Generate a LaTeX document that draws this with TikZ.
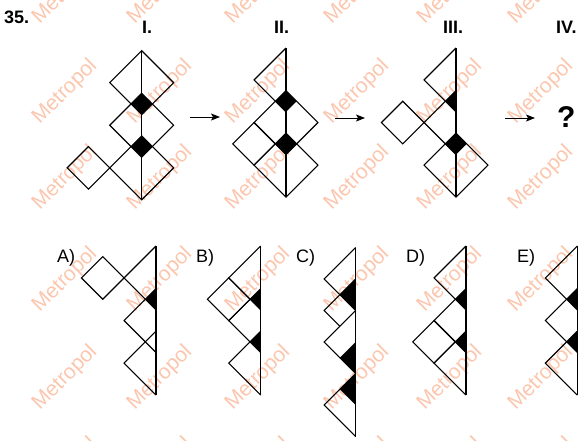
\documentclass[tikz,border=0pt]{standalone}
\usepackage{fontspec}
\setmainfont{Liberation Sans}
\usetikzlibrary{arrows.meta}
\tikzset{>={Stealth[width=7pt,length=9pt,inset=2pt]}}
\definecolor{wmark}{RGB}{251,198,174}

% building blocks, in grid steps, y pointing down
\newcommand{\bigsq}[1]{\draw[piece] (0,#1-1.5) -- (1.5,#1) -- (0,#1+1.5) -- (-1.5,#1) -- cycle;}
\newcommand{\halfsq}[1]{\draw[piece] (0,#1-1.5) -- (-1.5,#1) -- (0,#1+1.5);}
\newcommand{\smallsq}[2]{\draw[piece] (#1-1,#2) -- (#1,#2-1) -- (#1+1,#2) -- (#1,#2+1) -- cycle;}
\newcommand{\blackfull}[1]{\fill (0,#1-.5) -- (.5,#1) -- (0,#1+.5) -- (-.5,#1) -- cycle;}
\newcommand{\blackhalf}[1]{\fill (0,#1-.5) -- (-.5,#1) -- (0,#1+.5) -- cycle;}
\newcommand{\spine}[1]{\draw[piece] (0,0) -- (0,#1);}

\begin{document}
\begin{tikzpicture}[x=1pt,y=-1pt]
% Define styles
\tikzstyle{piece} = [line width=1.1pt]
\tikzstyle{fig} = [x=21.3pt, y=-21.3pt]
\tikzstyle{wm} = [text=wmark, rotate=45, font=\fontsize{21}{21}\selectfont]
\tikzstyle{numlabel} = [anchor=base west, inner sep=0pt, font=\bfseries\fontsize{18}{18}\selectfont]
\tikzstyle{optlabel} = [anchor=base west, inner sep=0pt, font=\fontsize{18}{18}\selectfont]
\useasboundingbox (0,0) rectangle (583,440);
\clip (0,0) rectangle (583,440);
% background stamp
\foreach \wx [count=\i] in {-32,65,160,258,357,450,541}
  \foreach \wy [count=\j] in {-8,92,178,280,378,470}
    \node[wm] (wm\i\j) at (\wx,\wy) {Metropol};
% Define nodes
\node[numlabel] (num) at (4,23) {35.};
\node[numlabel] (lI) at (142,33) {I.};
\node[numlabel] (lII) at (274,33) {II.};
\node[numlabel] (lIII) at (443,33) {III.};
\node[numlabel] (lIV) at (556,33) {IV.};
\node[numlabel, font=\bfseries\fontsize{30}{30}\selectfont] (quest) at (557,127) {?};
\node[optlabel] (oA) at (57,262) {A)};
\node[optlabel] (oB) at (196,262) {B)};
\node[optlabel] (oC) at (296,262) {C)};
\node[optlabel] (oD) at (406,262) {D)};
\node[optlabel] (oE) at (517,262) {E)};
\coordinate (a1s) at (190,117); \coordinate (a1e) at (220,117);
\coordinate (a2s) at (335,118); \coordinate (a2e) at (365,118);
\coordinate (a3s) at (505,118); \coordinate (a3e) at (535,118);
% Connect the figures
\draw[->, line width=0.9pt] (a1s) -- (a1e);
\draw[->, line width=0.9pt] (a2s) -- (a2e);
\draw[->, line width=0.9pt] (a3s) -- (a3e);
% figure I
\begin{scope}[shift={(141.7,50.7)}, fig]
  \spine{7} \bigsq{1.5} \bigsq{3.5} \bigsq{5.5} \smallsq{-2.5}{5.5}
  \blackfull{2.5} \blackfull{4.5}
\end{scope}
% figure II
\begin{scope}[shift={(286,48)}, fig]
  \spine{7} \halfsq{1.5} \bigsq{3.5} \bigsq{5.5} \smallsq{-1.5}{4.5}
  \blackfull{2.5} \blackfull{4.5}
\end{scope}
% figure III
\begin{scope}[shift={(456,48)}, fig]
  \spine{7} \halfsq{1.5} \halfsq{3.5} \bigsq{5.5} \smallsq{-2.5}{3.5}
  \blackhalf{2.5} \blackfull{4.5}
\end{scope}
% option A
\begin{scope}[shift={(156,246)}, fig]
  \spine{7} \halfsq{1.5} \halfsq{3.5} \halfsq{5.5} \smallsq{-2.5}{1.5}
  \blackhalf{2.5}
\end{scope}
% option B
\begin{scope}[shift={(260.7,246)}, fig]
  \spine{7} \halfsq{1.5} \halfsq{3.5} \halfsq{5.5} \smallsq{-1.5}{2.5}
  \blackhalf{2.5} \blackhalf{4.5}
\end{scope}
% option C, steps of 1.5
\begin{scope}[shift={(355.7,247.5)}, x=21pt, y=-21pt]
  \spine{9} \halfsq{1.5}
  \draw[piece] (0,1.5) -- (-1.5,3) -- (-.75,3.75);
  \halfsq{4.5} \halfsq{7.5}
  \fill (0,1.5) -- (-.75,2.25) -- (0,3) -- cycle;
  \fill (0,4.5) -- (-.75,5.25) -- (0,6) -- cycle;
  \fill (0,6) -- (-.75,6.75) -- (0,7.5) -- cycle;
\end{scope}
% option D
\begin{scope}[shift={(466,246)}, fig]
  \spine{7} \halfsq{1.5} \halfsq{3.5} \halfsq{5.5} \smallsq{-1.5}{4.5}
  \blackhalf{2.5} \blackhalf{4.5}
\end{scope}
% option E
\begin{scope}[shift={(577.3,246)}, fig]
  \spine{7} \halfsq{1.5} \halfsq{3.5} \halfsq{5.5}
  \blackhalf{2.5} \blackhalf{4.5}
\end{scope}
\end{tikzpicture}
\end{document}
